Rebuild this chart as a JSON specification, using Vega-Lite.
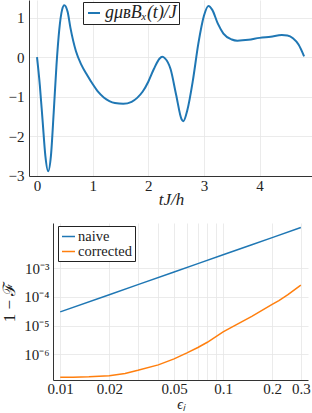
{
  "$schema": "https://vega.github.io/schema/vega-lite/v6.json",
  "padding": 0,
  "background": "white",
  "spacing": 16,
  "resolve": {"scale": {"color": "independent"}, "legend": {"color": "independent"}},
  "config": {
    "font": "Liberation Serif",
    "view": {"stroke": null},
    "axis": {
      "domainColor": "#333333",
      "domainWidth": 1,
      "gridColor": "#e6e6e6",
      "gridWidth": 0.8,
      "ticks": false,
      "tickSize": 0,
      "labelFont": "Liberation Serif",
      "labelFontSize": 15,
      "labelColor": "#222222",
      "titleFont": "Liberation Serif",
      "titleFontWeight": "normal",
      "titleColor": "#222222"
    },
    "legend": {
      "orient": "none",
      "title": null,
      "strokeColor": "#222222",
      "fillColor": "white",
      "symbolType": "stroke",
      "labelFont": "Liberation Serif",
      "labelColor": "#222222",
      "labelOffset": 2,
      "padding": 3,
      "rowPadding": 0,
      "cornerRadius": 0
    }
  },
  "vconcat": [
    {
      "width": 284,
      "height": 176,
      "data": {"values": [
        {"t": 0.0, "B": 0.0},
        {"t": 0.05, "B": -0.7},
        {"t": 0.1, "B": -1.6},
        {"t": 0.15, "B": -2.5},
        {"t": 0.2, "B": -2.89},
        {"t": 0.25, "B": -2.5},
        {"t": 0.3, "B": -1.4},
        {"t": 0.35, "B": -0.2},
        {"t": 0.4, "B": 0.7},
        {"t": 0.45, "B": 1.2},
        {"t": 0.49, "B": 1.32},
        {"t": 0.55, "B": 1.15},
        {"t": 0.6, "B": 0.75},
        {"t": 0.7, "B": 0.15},
        {"t": 0.8, "B": -0.2},
        {"t": 0.9, "B": -0.45},
        {"t": 1.0, "B": -0.68},
        {"t": 1.1, "B": -0.88},
        {"t": 1.2, "B": -1.02},
        {"t": 1.3, "B": -1.11},
        {"t": 1.4, "B": -1.16},
        {"t": 1.55, "B": -1.18},
        {"t": 1.7, "B": -1.13},
        {"t": 1.8, "B": -1.03},
        {"t": 1.9, "B": -0.87},
        {"t": 2.0, "B": -0.62},
        {"t": 2.1, "B": -0.3},
        {"t": 2.2, "B": -0.04},
        {"t": 2.25, "B": 0.01},
        {"t": 2.3, "B": -0.03},
        {"t": 2.4, "B": -0.3},
        {"t": 2.5, "B": -0.95},
        {"t": 2.6, "B": -1.58},
        {"t": 2.63, "B": -1.62},
        {"t": 2.7, "B": -1.35},
        {"t": 2.8, "B": -0.6},
        {"t": 2.9, "B": 0.35},
        {"t": 3.0, "B": 1.05},
        {"t": 3.08, "B": 1.3},
        {"t": 3.15, "B": 1.2},
        {"t": 3.25, "B": 0.85},
        {"t": 3.35, "B": 0.6},
        {"t": 3.5, "B": 0.45},
        {"t": 3.6, "B": 0.42},
        {"t": 3.8, "B": 0.44},
        {"t": 4.0, "B": 0.49},
        {"t": 4.2, "B": 0.52},
        {"t": 4.4, "B": 0.56},
        {"t": 4.5, "B": 0.55},
        {"t": 4.6, "B": 0.48},
        {"t": 4.7, "B": 0.32},
        {"t": 4.8, "B": 0.02}
      ]},
      "mark": {"type": "line", "strokeWidth": 2, "interpolate": "monotone", "clip": true},
      "encoding": {
        "x": {"field": "t", "type": "quantitative",
          "scale": {"domain": [-0.144, 4.96], "nice": false, "zero": false},
          "axis": {"values": [0, 1, 2, 3, 4], "title": "tJ/h", "titleFontStyle": "italic", "titleFontSize": 17, "labelPadding": 2, "titlePadding": -2, "format": "d"}},
        "y": {"field": "B", "type": "quantitative",
          "scale": {"domain": [-3.01, 1.45], "nice": false, "zero": false},
          "axis": {"values": [-3, -2, -1, 0, 1], "title": null, "labelPadding": 5, "minExtent": 27, "maxExtent": 27, "format": "d"}},
        "color": {"datum": "gμʙBₓ(t)/J", "scale": {"range": ["#1f77b4"]},
          "legend": {"legendX": 54, "legendY": 2, "labelFontSize": 18, "labelFontStyle": "italic", "symbolSize": 144, "symbolStrokeWidth": 2, "padding": 2}}
      }
    },
    {
      "hconcat": [
        {
          "width": 24,
          "height": 157,
          "data": {"values": []},
          "mark": "point",
          "encoding": {}
        },
        {
          "width": 255,
          "height": 157,
          "data": {"values": [
            {"eps": 0.01, "val": 3.0e-5, "method": "naive"},
            {"eps": 0.02, "val": 1.2e-4, "method": "naive"},
            {"eps": 0.03, "val": 2.7e-4, "method": "naive"},
            {"eps": 0.05, "val": 7.5e-4, "method": "naive"},
            {"eps": 0.07, "val": 1.47e-3, "method": "naive"},
            {"eps": 0.1, "val": 3.0e-3, "method": "naive"},
            {"eps": 0.15, "val": 6.75e-3, "method": "naive"},
            {"eps": 0.2, "val": 1.2e-2, "method": "naive"},
            {"eps": 0.3, "val": 2.7e-2, "method": "naive"},
            {"eps": 0.01, "val": 1.55e-7, "method": "corrected"},
            {"eps": 0.012, "val": 1.55e-7, "method": "corrected"},
            {"eps": 0.015, "val": 1.6e-7, "method": "corrected"},
            {"eps": 0.02, "val": 1.75e-7, "method": "corrected"},
            {"eps": 0.025, "val": 2.1e-7, "method": "corrected"},
            {"eps": 0.03, "val": 2.7e-7, "method": "corrected"},
            {"eps": 0.04, "val": 4.2e-7, "method": "corrected"},
            {"eps": 0.05, "val": 6.8e-7, "method": "corrected"},
            {"eps": 0.06, "val": 1.1e-6, "method": "corrected"},
            {"eps": 0.07, "val": 1.7e-6, "method": "corrected"},
            {"eps": 0.08, "val": 2.6e-6, "method": "corrected"},
            {"eps": 0.1, "val": 6.0e-6, "method": "corrected"},
            {"eps": 0.12, "val": 1.05e-5, "method": "corrected"},
            {"eps": 0.15, "val": 2.1e-5, "method": "corrected"},
            {"eps": 0.2, "val": 5.5e-5, "method": "corrected"},
            {"eps": 0.22, "val": 7.5e-5, "method": "corrected"},
            {"eps": 0.25, "val": 1.2e-4, "method": "corrected"},
            {"eps": 0.3, "val": 2.6e-4, "method": "corrected"}
          ]},
          "mark": {"type": "line", "strokeWidth": 1.5, "clip": true},
          "encoding": {
            "x": {"field": "eps", "type": "quantitative",
              "scale": {"type": "log", "domain": [0.00903, 0.332], "nice": false},
              "axis": {"values": [0.01, 0.02, 0.03, 0.04, 0.05, 0.06, 0.07, 0.08, 0.09, 0.1, 0.2, 0.3],
                "labelExpr": "indexof([0.01, 0.02, 0.05, 0.1, 0.2, 0.3], datum.value) >= 0 ? format(datum.value, '~g') : ''",
                "title": "ϵⱼ", "titleFontSize": 14, "titleFontStyle": "italic", "labelPadding": 1, "titlePadding": 1, "labelOverlap": false}},
            "y": {"field": "val", "type": "quantitative",
              "scale": {"type": "log", "domain": [1.24e-7, 0.0389], "nice": false},
              "axis": {"values": [0.001, 0.0001, 0.00001, 0.000001],
                "labelExpr": "datum.value > 0.0005 ? '10⁻³' : datum.value > 0.00005 ? '10⁻⁴' : datum.value > 0.000005 ? '10⁻⁵' : '10⁻⁶'",
                "title": "1 − ℱ", "titleFontSize": 17, "labelPadding": 4, "minExtent": 32, "maxExtent": 32, "titlePadding": 3, "labelOverlap": false}},
            "color": {"field": "method", "type": "nominal",
              "scale": {"domain": ["naive", "corrected"], "range": ["#1f77b4", "#ff7f0e"]},
              "legend": {"legendX": 29, "legendY": 3, "labelFontSize": 14.5, "symbolSize": 169, "symbolStrokeWidth": 1.5}}
          }
        }
      ],
      "spacing": 0,
      "bounds": "flush"
    }
  ]
}
